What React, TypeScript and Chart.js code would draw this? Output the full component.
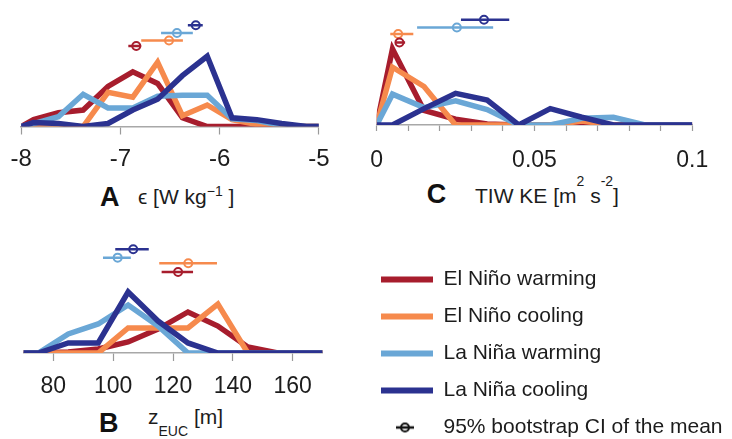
import React, { useEffect, useRef } from 'react';
import { Chart, registerables } from 'chart.js';

Chart.register(...registerables);

const FONT = "'Liberation Sans', Arial, Helvetica, sans-serif";
const TEXT_COLOR = '#1c1c1c';

const SERIES_NAMES = ['El Niño warming', 'El Niño cooling', 'La Niña warming', 'La Niña cooling'];
const SERIES_COLORS = ['#a71d2d', '#f68a4d', '#6aa7d6', '#2b3290'];
const CI_LABEL = '95% bootstrap CI of the mean';

// Panel A: epsilon (log10 W kg-1), fraction of events per bin
const epsBins = [-8, -7.875, -7.625, -7.375, -7.125, -6.875, -6.625, -6.375, -6.125, -5.875, -5.625, -5.375, -5.125, -5];
const epsElNinoWarming = [0, 0.037, 0.074, 0.089, 0.216, 0.295, 0.232, 0.047, 0, 0, 0, 0, 0, 0];
const epsElNinoCooling = [0, 0, 0, 0, 0.184, 0.158, 0.347, 0.058, 0.116, 0.037, 0.011, 0, 0, 0];
const epsLaNinaWarming = [0, 0.016, 0.053, 0.174, 0.1, 0.1, 0.163, 0.168, 0.168, 0.042, 0.032, 0.005, 0, 0];
const epsLaNinaCooling = [0, 0.021, 0.016, 0, 0.016, 0.089, 0.147, 0.274, 0.379, 0.047, 0.037, 0.016, 0, 0];
const epsCiLow = [-6.92, -6.79, -6.59, -6.32];
const epsCiMean = [-6.84, -6.51, -6.43, -6.24];
const epsCiHigh = [-6.79, -6.37, -6.27, -6.17];
const epsCiLevel = [0.434, 0.464, 0.504, 0.546];
const epsTicks = [-8, -7, -6, -5];

// Panel B: EUC core depth (m)
const zBins = [70, 75, 85, 95, 105, 115, 125, 135, 145, 155, 165, 170];
const zElNinoWarming = [0, 0, 0.008, 0.033, 0.091, 0.198, 0.339, 0.223, 0.05, 0, 0, 0];
const zElNinoCooling = [0, 0, 0, 0, 0.207, 0.207, 0.207, 0.405, 0, 0, 0, 0];
const zLaNinaWarming = [0, 0, 0.157, 0.24, 0.397, 0.223, 0, 0, 0, 0, 0, 0];
const zLaNinaCooling = [0, 0, 0.083, 0.083, 0.504, 0.264, 0.083, 0, 0, 0, 0, 0];
const zCiLow = [116.2, 115.4, 96.6, 100.7];
const zCiMean = [121.7, 125.1, 101.5, 106.7];
const zCiHigh = [126.7, 134.7, 105.9, 111.9];
const zCiLevel = [0.669, 0.741, 0.788, 0.857];
const zTicks = [80, 100, 120, 140, 160];

// Panel C: TIW kinetic energy (m2 s-2)
const keBins = [0, 0.005, 0.015, 0.025, 0.035, 0.045, 0.055, 0.065, 0.075, 0.085, 0.095, 0.1];
const keElNinoWarming = [0, 0.767, 0.146, 0.058, 0.01, 0, 0, 0, 0, 0, 0, 0];
const keElNinoCooling = [0, 0.583, 0.388, 0, 0, 0, 0, 0.039, 0, 0, 0, 0];
const keLaNinaWarming = [0, 0.311, 0.175, 0.243, 0.155, 0, 0, 0.068, 0.078, 0, 0, 0];
const keLaNinaCooling = [0, 0, 0.165, 0.32, 0.252, 0, 0.165, 0.078, 0, 0, 0, 0];
const keCiLow = [0.0058, 0.0043, 0.0128, 0.0267];
const keCiMean = [0.0072, 0.0068, 0.0254, 0.034];
const keCiHigh = [0.009, 0.0116, 0.0369, 0.042];
const keCiLevel = [0.832, 0.917, 0.983, 1.061];
const keTicks = [0, 0.01, 0.02, 0.03, 0.04, 0.05, 0.06, 0.07, 0.08, 0.09, 0.1];
const keTickLabels = ['0', '', '', '', '', '0.05', '', '', '', '', '0.1'];

type Panel = {
  xs: number[];
  ys: number[][];
  ciLow: number[];
  ciMean: number[];
  ciHigh: number[];
  ciLevel: number[];
  ticks: number[];
  label: (v: number, i: number) => string;
  xMin: number;
  xMax: number;
  yMax: number;
  pad: { left: number; right: number; top: number };
  axisHeight: number;
  tickLength: number;
  tickPadding: number;
  fontSize: number;
};

function panelConfig(p: Panel): any {
  const datasets: any[] = [];
  p.ys.forEach((ys, i) => {
    datasets.push({
      label: SERIES_NAMES[i],
      data: p.xs.map((x, j) => ({ x, y: ys[j] })),
      borderColor: SERIES_COLORS[i],
      backgroundColor: SERIES_COLORS[i],
      borderWidth: 5.5,
      pointRadius: 0,
      tension: 0,
      fill: false,
      borderJoinStyle: 'miter',
      borderCapStyle: 'butt',
      order: 10 - i,
    });
  });
  p.ciMean.forEach((m, i) => {
    datasets.push({
      label: CI_LABEL,
      data: [
        { x: p.ciLow[i], y: p.ciLevel[i] },
        { x: p.ciHigh[i], y: p.ciLevel[i] },
      ],
      borderColor: SERIES_COLORS[i],
      borderWidth: 2.5,
      pointRadius: 0,
      order: 1,
    });
    datasets.push({
      label: CI_LABEL,
      data: [{ x: m, y: p.ciLevel[i] }],
      showLine: false,
      pointRadius: 4,
      pointBorderWidth: 2,
      pointBorderColor: SERIES_COLORS[i],
      pointBackgroundColor: 'rgba(255,255,255,0)',
      borderColor: SERIES_COLORS[i],
      order: 0,
    });
  });
  return {
    type: 'line',
    data: { datasets },
    options: {
      animation: false,
      responsive: false,
      maintainAspectRatio: false,
      events: [],
      layout: { padding: { left: p.pad.left, right: p.pad.right, top: p.pad.top, bottom: 0 } },
      plugins: { legend: { display: false }, tooltip: { enabled: false } },
      scales: {
        x: {
          type: 'linear',
          min: p.xMin,
          max: p.xMax,
          afterBuildTicks: (s: any) => {
            s.ticks = p.ticks.map((v) => ({ value: v }));
          },
          afterFit: (s: any) => {
            s.height = p.axisHeight;
          },
          ticks: {
            autoSkip: false,
            maxRotation: 0,
            minRotation: 0,
            padding: p.tickPadding,
            font: { family: FONT, size: p.fontSize },
            color: TEXT_COLOR,
            callback: (v: any, i: number) => p.label(Number(v), i),
          },
          grid: {
            display: true,
            drawOnChartArea: false,
            drawTicks: true,
            tickLength: p.tickLength,
            tickColor: '#9a9a9a',
            tickWidth: 1.2,
            color: '#9a9a9a',
          },
          border: { display: true, color: '#a8a8a8', width: 1.5 },
        },
        y: { display: false, min: 0, max: p.yMax },
      },
    },
  };
}

function makeCiMarker(): HTMLCanvasElement {
  const c = document.createElement('canvas');
  c.width = 24;
  c.height = 14;
  const ctx = c.getContext('2d')!;
  ctx.strokeStyle = '#111';
  ctx.lineWidth = 2.5;
  ctx.beginPath();
  ctx.moveTo(1, 7);
  ctx.lineTo(19, 7);
  ctx.stroke();
  ctx.lineWidth = 2;
  ctx.beginPath();
  ctx.arc(10, 7, 4, 0, Math.PI * 2);
  ctx.stroke();
  return c;
}

const abs = (left: number, top: number): React.CSSProperties => ({ position: 'absolute', left, top });

export default function App() {
  const aRef = useRef<HTMLCanvasElement>(null);
  const bRef = useRef<HTMLCanvasElement>(null);
  const cRef = useRef<HTMLCanvasElement>(null);
  const lRef = useRef<HTMLCanvasElement>(null);

  useEffect(() => {
    const charts: Chart[] = [];
    charts.push(
      new Chart(
        aRef.current!,
        panelConfig({
          xs: epsBins,
          ys: [epsElNinoWarming, epsElNinoCooling, epsLaNinaWarming, epsLaNinaCooling],
          ciLow: epsCiLow,
          ciMean: epsCiMean,
          ciHigh: epsCiHigh,
          ciLevel: epsCiLevel,
          ticks: epsTicks,
          label: (v) => String(v),
          xMin: -8,
          xMax: -5,
          yMax: 0.65,
          pad: { left: 20.7, right: 19.3, top: 3 },
          axisHeight: 43.5,
          tickLength: 8,
          tickPadding: 10.5,
          fontSize: 24,
        })
      )
    );
    charts.push(
      new Chart(
        bRef.current!,
        panelConfig({
          xs: zBins,
          ys: [zElNinoWarming, zElNinoCooling, zLaNinaWarming, zLaNinaCooling],
          ciLow: zCiLow,
          ciMean: zCiMean,
          ciHigh: zCiHigh,
          ciLevel: zCiLevel,
          ticks: zTicks,
          label: (v) => String(v),
          xMin: 70,
          xMax: 170,
          yMax: 1.0,
          pad: { left: 23.4, right: 17.4, top: 12 },
          axisHeight: 45,
          tickLength: 8,
          tickPadding: 11.5,
          fontSize: 23,
        })
      )
    );
    charts.push(
      new Chart(
        cRef.current!,
        panelConfig({
          xs: keBins,
          ys: [keElNinoWarming, keElNinoCooling, keLaNinaWarming, keLaNinaCooling],
          ciLow: keCiLow,
          ciMean: keCiMean,
          ciHigh: keCiHigh,
          ciLevel: keCiLevel,
          ticks: keTicks,
          label: (_v, i) => keTickLabels[i] ?? '',
          xMin: 0,
          xMax: 0.1,
          yMax: 1.2,
          pad: { left: 36.7, right: 39.7, top: 1.4 },
          axisHeight: 45,
          tickLength: 6,
          tickPadding: 15.5,
          fontSize: 23,
        })
      )
    );

    const marker = makeCiMarker();
    const legendItems: any[] = SERIES_NAMES.map((name, i) => ({
      text: name,
      pointStyle: 'line',
      strokeStyle: SERIES_COLORS[i],
      fillStyle: SERIES_COLORS[i],
      lineWidth: 6,
      lineCap: 'butt',
      hidden: false,
      datasetIndex: i,
      fontColor: TEXT_COLOR,
    }));
    legendItems.push({
      text: CI_LABEL,
      pointStyle: marker,
      strokeStyle: 'rgba(0,0,0,0)',
      fillStyle: 'rgba(0,0,0,0)',
      lineWidth: 0,
      hidden: false,
      datasetIndex: 4,
      fontColor: TEXT_COLOR,
    });
    charts.push(
      new Chart(lRef.current!, {
        type: 'line',
        data: { datasets: [] },
        options: {
          animation: false,
          responsive: false,
          maintainAspectRatio: false,
          events: [],
          layout: { padding: 0 },
          scales: { x: { display: false }, y: { display: false } },
          plugins: {
            tooltip: { enabled: false },
            legend: {
              display: true,
              position: 'left',
              align: 'start',
              maxWidth: 400,
              labels: {
                usePointStyle: true,
                pointStyleWidth: 52,
                padding: 16,
                color: TEXT_COLOR,
                font: { family: FONT, size: 21 },
                generateLabels: () => legendItems,
              },
            },
          },
        } as any,
      })
    );
    return () => charts.forEach((c) => c.destroy());
  }, []);

  const letter: React.CSSProperties = {
    fontFamily: FONT,
    fontWeight: 'bold',
    fontSize: 27,
    lineHeight: '27px',
    color: '#111',
    whiteSpace: 'nowrap',
  };
  const unit: React.CSSProperties = {
    fontFamily: FONT,
    fontSize: 21,
    lineHeight: '21px',
    color: TEXT_COLOR,
    whiteSpace: 'nowrap',
  };
  const small = (top: number): React.CSSProperties => ({ fontSize: 14, position: 'relative', top });

  return (
    <div style={{ position: 'absolute', left: 0, top: 0, width: 732, height: 439, overflow: 'hidden', background: '#fff' }}>
      <canvas ref={aRef} width={340} height={170} style={{ ...abs(0, 0), width: 340, height: 170 }} />
      <canvas ref={cRef} width={392} height={170} style={{ ...abs(340, 0), width: 392, height: 170 }} />
      <canvas ref={bRef} width={340} height={178} style={{ ...abs(0, 220), width: 340, height: 178 }} />
      <canvas ref={lRef} width={440} height={215} style={{ ...abs(365, 253), width: 440, height: 215 }} />

      <div style={{ ...abs(100, 183.8), ...letter }}>A</div>
      <div style={{ ...abs(138, 185.5), ...unit }}>
        ϵ [W kg<span style={small(-8)}>−1</span> ]
      </div>

      <div style={{ ...abs(426.7, 180.5), ...letter }}>C</div>
      <div style={{ ...abs(475, 184.5), ...unit }}>
        TIW KE [m<span style={small(-17)}>2</span> s<span style={small(-17)}>-2</span>]
      </div>

      <div style={{ ...abs(99, 410.4), ...letter }}>B</div>
      <div style={{ ...abs(148, 405.5), ...unit }}>
        z<span style={small(12)}>EUC</span> [m]
      </div>
    </div>
  );
}
